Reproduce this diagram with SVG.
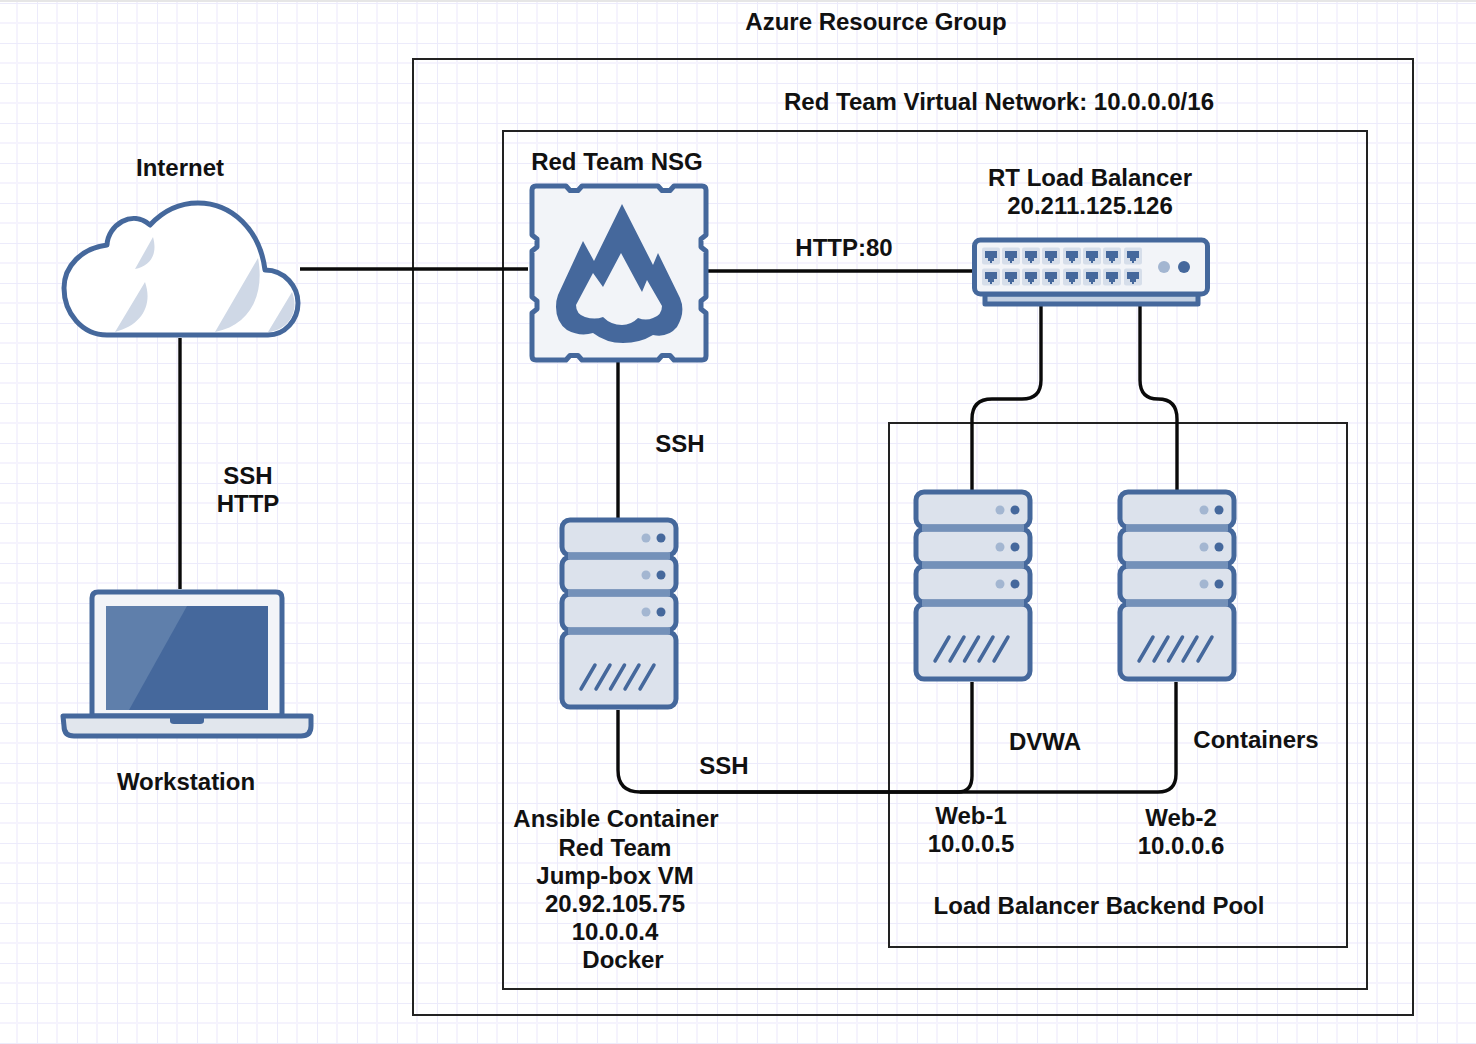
<svg xmlns="http://www.w3.org/2000/svg" width="1476" height="1044" viewBox="0 0 1476 1044">
<style>
.t{font-family:"Liberation Sans",Arial,sans-serif;font-weight:700;font-size:24px;fill:#111;text-anchor:middle}
.frame{fill:none;stroke:#222;stroke-width:2}
.c{fill:none;stroke:#0a0a0a;stroke-width:3.4;stroke-linecap:butt}
.o{stroke:#45689c;stroke-width:5;stroke-linejoin:round}
.d{fill:#45689c}
.m{fill:#a3b6d1}
.s{fill:#dce2ec}
.p{fill:#f2f4f8}
.h{fill:#cfd8e6}
</style>
<defs>
<pattern id="g" width="40" height="40" x="-3" y="3" patternUnits="userSpaceOnUse">
<path d="M20 0V40M0 20H40" stroke="#f5f3fd" stroke-width="2" fill="none"/>
<path d="M0 0V40M0 0H40" stroke="#ecebfb" stroke-width="2" fill="none"/>
</pattern>
<symbol id="server" width="122" height="196" viewBox="0 0 122 196" overflow="visible">
<g class="s o">
<rect x="3" y="3" width="114" height="35" rx="8"/>
<rect x="3" y="40" width="114" height="35" rx="8"/>
<rect x="3" y="77" width="114" height="36" rx="8"/>
<rect x="3" y="115" width="114" height="75" rx="8"/>
</g>
<path d="M9 39H111M9 76H111M9 114H111" stroke="#7491b9" stroke-width="7"/>
<circle class="m" cx="87" cy="21" r="4.500"/><circle class="d" cx="102" cy="21" r="4.500"/>
<circle class="m" cx="87" cy="58" r="4.500"/><circle class="d" cx="102" cy="58" r="4.500"/>
<circle class="m" cx="87" cy="95" r="4.500"/><circle class="d" cx="102" cy="95" r="4.500"/>
<path d="M22 172L36 148M37 172L51 148M51.500 172L65.500 148M66 172L80 148M81 172L95 148" stroke="#45689c" stroke-width="3.500" stroke-linecap="round"/>
</symbol>
<g id="port"><rect x="-9" y="-8.500" width="18" height="17" rx="2" fill="#d6deea"/><path class="d" d="M-6-5H6V2H3V5H1V7H-1V5H-3V2H-6Z"/></g>
</defs>
<rect width="1476" height="1044" fill="#fff"/>
<rect width="1476" height="1044" fill="url(#g)"/>
<rect width="1476" height="2" fill="#e6e6e6"/>

<g id="azure-resource-group"><rect class="frame" x="413" y="59" width="1000" height="956"/><text class="t" x="876" y="30">Azure Resource Group</text></g>
<g id="virtual-network"><rect class="frame" x="503" y="131" width="864" height="858"/><text class="t" x="999" y="110">Red Team Virtual Network: 10.0.0.0/16</text></g>
<g id="backend-pool"><rect class="frame" x="889" y="423" width="458" height="524"/><text class="t" x="1099" y="914">Load Balancer Backend Pool</text></g>

<g id="connectors">
<path class="c" d="M300 269H528"/>
<path class="c" d="M708 271H972"/>
<path class="c" d="M180 338V589"/>
<path class="c" d="M618 362V518"/>
<path class="c" d="M1041 306V380Q1041 399 1022 399H992Q972 399 972 419V490"/>
<path class="c" d="M1140 306V380Q1140 399 1158 399Q1177 399 1177 419V490"/>
<path class="c" d="M618 710V770Q618 792 640 792H958Q972 792 972 776V682"/>
<path class="c" d="M640 792H1158Q1176 792 1176 774V682"/>
<text class="t" x="248" y="484">SSH</text>
<text class="t" x="248" y="512">HTTP</text>
<text class="t" x="844" y="256">HTTP:80</text>
<text class="t" x="680" y="452">SSH</text>
<text class="t" x="724" y="774">SSH</text>
<text class="t" x="1045" y="750">DVWA</text>
<text class="t" x="1256" y="748">Containers</text>
</g>

<g id="internet">
<path fill="#fff" stroke="#45689c" stroke-width="5" stroke-linejoin="round" d="M107 335C82 335 64 313 64 288C64 266 82 248 107 245C108 225 132 209 150 225C163 211 178 203 198 203C232 203 260 230 265 270C285 270 298 287 298 303C298 320 285 335 268 335Z"/>
<path class="h" d="M153 237C158 255 150 266 135 269ZM145 282C153 305 142 325 115 332ZM258 258C265 295 250 325 215 332ZM292 292C300 312 288 330 268 332Z"/>
<text class="t" x="180" y="176">Internet</text>
</g>

<g id="nsg">
<path class="p o" d="M536 186H566L570 190.500H578L582 186H658L662 190.500H670L674 186H702Q706 186 706 190V235L701 239V247L706 251V297L701 301V309L706 313V356Q706 360 702 360H674L670 355.500H662L658 360H582L578 355.500H570L566 360H536Q532 360 532 356V313L537 309V301L532 297V251L537 247V239L532 235V190Q532 186 536 186Z"/>
<path class="d" fill-rule="evenodd" d="M622 204L653 265L658 253L680 298Q686 312 677 327Q668 338 653 335Q640 343 623 343Q606 343 593 333Q580 337 567 330Q556 322 556 307Q556 300 558 295L583 241L594 261ZM621 253L603 287L593 273L576 305Q576 314 585 317Q595 320 603 317Q611 325 622 325Q631 325 638 318Q646 321 653 318Q662 315 662 306L647 280L642 292Z"/>
<text class="t" x="617" y="170">Red Team NSG</text>
</g>

<g id="load-balancer">
<rect class="o" x="985" y="294" width="213" height="10" fill="#c3d0e2"/>
<rect class="p o" x="974.500" y="240" width="233" height="54" rx="6"/>
<use href="#port" x="991" y="256"/><use href="#port" x="1011" y="256"/><use href="#port" x="1031" y="256"/><use href="#port" x="1051" y="256"/><use href="#port" x="1072" y="256"/><use href="#port" x="1092" y="256"/><use href="#port" x="1112" y="256"/><use href="#port" x="1133" y="256"/>
<use href="#port" x="991" y="277"/><use href="#port" x="1011" y="277"/><use href="#port" x="1031" y="277"/><use href="#port" x="1051" y="277"/><use href="#port" x="1072" y="277"/><use href="#port" x="1092" y="277"/><use href="#port" x="1112" y="277"/><use href="#port" x="1133" y="277"/>
<circle class="m" cx="1164" cy="267" r="6"/><circle class="d" cx="1184" cy="267" r="6"/>
<text class="t" x="1090" y="186">RT Load Balancer</text>
<text class="t" x="1090" y="214">20.211.125.126</text>
</g>

<g id="workstation">
<path class="p o" d="M92 716V598Q92 592 98 592H276Q282 592 282 598V716Z"/>
<rect class="d" x="106" y="606" width="162" height="104"/>
<path fill="#5f7fab" d="M106 606H187L129 710H106Z"/>
<path fill="#e1e6ed" stroke="#45689c" stroke-width="5" stroke-linejoin="round" d="M63 716H311V726Q311 736 301 736H74Q64 736 64 726Z"/>
<path class="d" d="M170 716H204V721Q204 724 200 724H174Q170 724 170 721Z"/>
<text class="t" x="186" y="790">Workstation</text>
</g>

<g id="jump-box">
<use href="#server" x="559" y="517" width="122" height="196"/>
<text class="t" x="616" y="827">Ansible Container</text>
<text class="t" x="615" y="856">Red Team</text>
<text class="t" x="615" y="884">Jump-box VM</text>
<text class="t" x="615" y="912">20.92.105.75</text>
<text class="t" x="615" y="940">10.0.0.4</text>
<text class="t" x="623" y="968">Docker</text>
</g>

<g id="web-1">
<use href="#server" x="913" y="489" width="122" height="196"/>
<text class="t" x="971" y="824">Web-1</text>
<text class="t" x="971" y="852">10.0.0.5</text>
</g>

<g id="web-2">
<use href="#server" x="1117" y="489" width="122" height="196"/>
<text class="t" x="1181" y="826">Web-2</text>
<text class="t" x="1181" y="854">10.0.0.6</text>
</g>
</svg>
